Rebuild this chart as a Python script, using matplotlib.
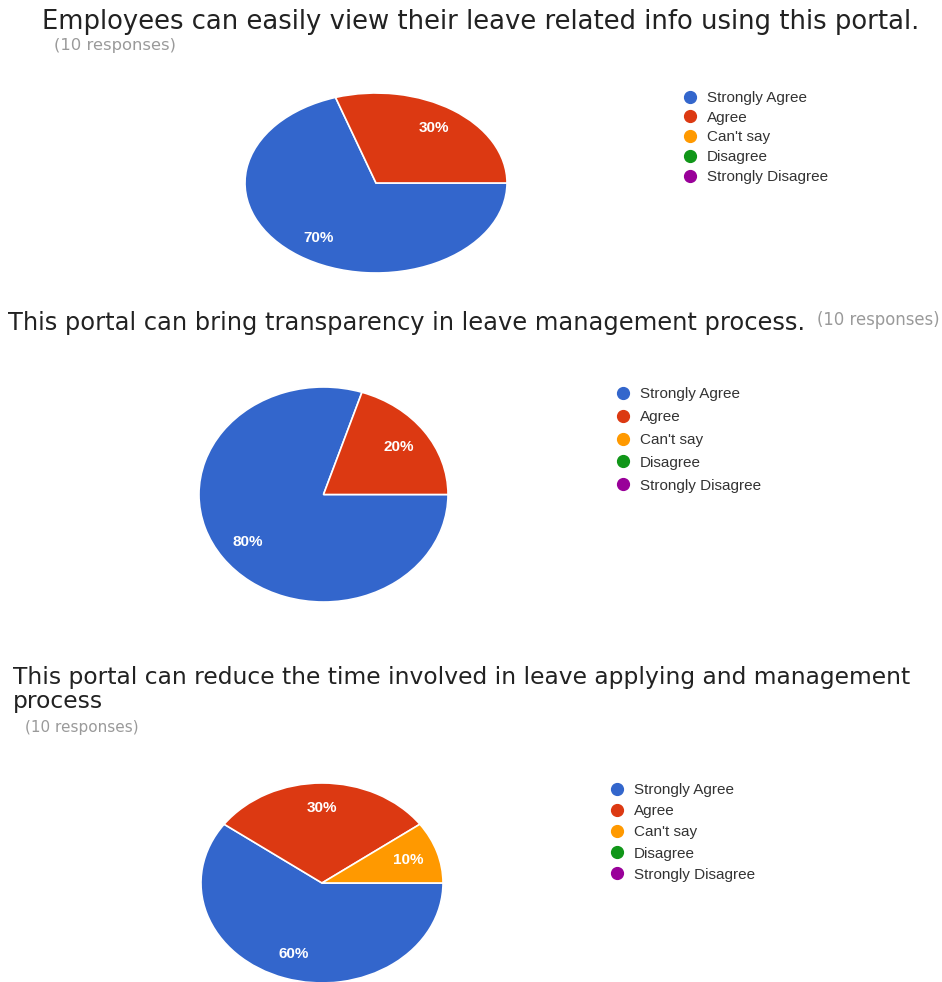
import matplotlib
matplotlib.use('Agg')
import matplotlib.pyplot as plt
from matplotlib.lines import Line2D

W, H = 942, 982

labels = ['Strongly Agree', 'Agree', "Can't say", 'Disagree', 'Strongly Disagree']
colors = ['#3366cc', '#dc3912', '#ff9900', '#109618', '#990099']

q1_title = 'Employees can easily view their leave related info using this portal.'
q1_counts = [7, 3, 0, 0, 0]
q2_title = 'This portal can bring transparency in leave management process.'
q2_counts = [8, 2, 0, 0, 0]
q3_title = 'This portal can reduce the time involved in leave applying and management\nprocess'
q3_counts = [6, 3, 1, 0, 0]
responses = '(10 responses)'

fig = plt.figure(figsize=(W / 100, H / 100), dpi=100)
fig.patch.set_facecolor('white')
renderer = fig.canvas.get_renderer()


def px_text(x, y, s, width_px, **kw):
    # place text in pixel coords (top-left origin) and scale font to a target width
    t = fig.text(x / W, 1 - y / H, s, fontsize=20, **kw)
    w = t.get_window_extent(renderer).width
    t.set_fontsize(20 * width_px / w)
    return t


def pie_chart(box, counts, legend_xy, legend_gap):
    x0, y0, x1, y1 = box
    ax = fig.add_axes([x0 / W, 1 - y1 / H, (x1 - x0) / W, (y1 - y0) / H])
    vals = [c for c in counts if c > 0]
    cols = [col for c, col in zip(counts, colors) if c > 0]
    ax.pie(vals, colors=cols, counterclock=False, startangle=0,
           autopct='%1.0f%%', pctdistance=0.75,
           wedgeprops=dict(edgecolor='white', linewidth=1.2),
           textprops=dict(color='white', fontsize=11, fontweight='bold',
                          family='Liberation Sans'))
    ax.set_aspect('auto')
    ax.set_xlim(-1, 1)
    ax.set_ylim(-1, 1)
    ax.axis('off')

    handles = [Line2D([], [], marker='o', ls='', color=c, markersize=8.5)
               for c in colors]
    fs = 11
    lx, ly = legend_xy
    fs_px = fs * 100 / 72
    fig.legend(handles, labels, loc='upper left',
               bbox_to_anchor=((lx - fs_px / 2) / W, 1 - (ly - 6) / H),
               bbox_transform=fig.transFigure, frameon=False,
               borderpad=0, borderaxespad=0, handlelength=1,
               handletextpad=0.6, labelspacing=legend_gap,
               prop=dict(family='Liberation Sans', size=fs),
               labelcolor='#333333')


title_kw = dict(family='DejaVu Sans', color='#222222', va='baseline')
sub_kw = dict(family='DejaVu Sans', color='#9a9a9a', va='baseline')

# chart 1
px_text(42, 29, q1_title, 875, **title_kw)
px_text(54, 50, responses, 122, **sub_kw)
pie_chart((245, 93, 507, 273), q1_counts, (690, 97), 0.375)

# chart 2
px_text(8, 330, q2_title, 798, **title_kw)
px_text(817, 325, responses, 123, **sub_kw)
pie_chart((199, 387, 448, 602), q2_counts, (623, 393), 0.585)

# chart 3
lines = q3_title.split('\n')
t = px_text(13, 684, lines[0], 895, **title_kw)
fig.text(13 / W, 1 - 708 / H, lines[1], fontsize=t.get_fontsize(), **title_kw)
px_text(25, 732, responses, 113, **sub_kw)
pie_chart((201, 783, 443, 983), q3_counts, (617, 789), 0.47)

fig.savefig('out.png', dpi=100, facecolor='white')
